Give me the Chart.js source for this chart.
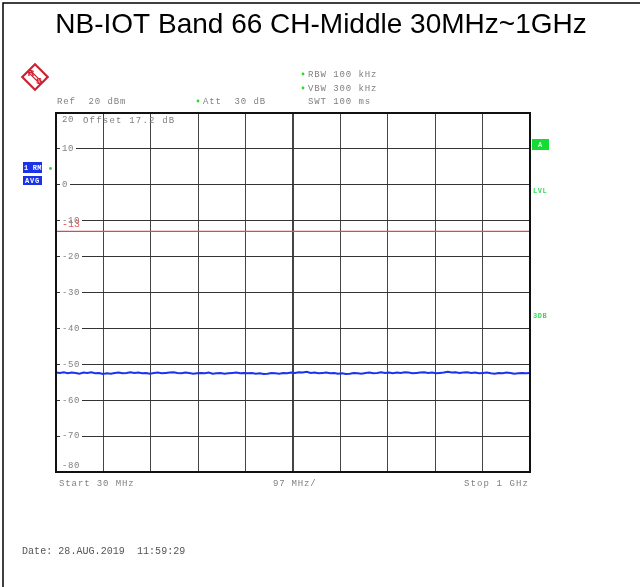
<!DOCTYPE html>
<html>
<head>
<meta charset="utf-8">
<script src="https://cdn.jsdelivr.net/npm/chart.js@4"></script>
<style>
  html, body { margin: 0; padding: 0; background: #fff; }
  #wrap { width: 640px; height: 587px; position: relative; }
</style>
</head>
<body>
<div id="wrap"><canvas id="c" width="640" height="587"></canvas></div>
<script>
// ---- data ----
const chartTitle = 'NB-IOT Band 66 CH-Middle 30MHz~1GHz';
const freqStartMHz = 30;
const freqStopMHz = 1000;
const xTickValues = [30, 127, 224, 321, 418, 515, 612, 709, 806, 903, 1000];
const yTickValues = [20, 10, 0, -10, -20, -30, -40, -50, -60, -70, -80];
const limitLevel = -13;
const limitLabel = '-13';
const traceLevels = [
  -52.3,-52.4,-52.2,-52.5,-52.3,-52.4,-52.6,-52.3,-52.4,-52.2,-52.5,-52.4,-52.7,
  -52.5,-52.6,-52.4,-52.3,-52.5,-52.4,-52.2,-52.4,-52.3,-52.5,-52.4,-52.6,
  -52.4,-52.3,-52.5,-52.4,-52.3,-52.2,-52.4,-52.5,-52.3,-52.4,-52.6,-52.5,
  -52.4,-52.5,-52.3,-52.6,-52.5,-52.4,-52.6,-52.5,-52.4,-52.3,-52.5,-52.4,
  -52.5,-52.4,-52.6,-52.5,-52.7,-52.6,-52.4,-52.5,-52.6,-52.4,-52.5,-52.3,
  -52.4,-52.2,-52.3,-52.1,-52.4,-52.3,-52.5,-52.4,-52.3,-52.5,-52.4,-52.6,
  -52.5,-52.7,-52.6,-52.4,-52.5,-52.6,-52.4,-52.3,-52.5,-52.4,-52.2,-52.4,
  -52.3,-52.5,-52.3,-52.4,-52.2,-52.3,-52.5,-52.4,-52.3,-52.2,-52.4,-52.3,
  -52.5,-52.4,-52.3,-52.1,-52.3,-52.2,-52.4,-52.3,-52.2,-52.4,-52.3,-52.5,
  -52.4,-52.3,-52.5,-52.6,-52.4,-52.5,-52.3,-52.4,-52.6,-52.5,-52.4,-52.5,-52.4
];
const headerLines = [
  { text: 'Ref  20 dBm', x: 57, y: 104, dot: false },
  { text: 'Att  30 dB', x: 203, y: 104, dot: true },
  { text: 'RBW 100 kHz', x: 308, y: 77, dot: true },
  { text: 'VBW 300 kHz', x: 308, y: 91, dot: true },
  { text: 'SWT 100 ms', x: 308, y: 104, dot: false }
];
const offsetText = 'Offset 17.2 dB';
const footerStart = 'Start 30 MHz';
const footerSpan = '97 MHz/';
const footerStop = 'Stop 1 GHz';
const dateText = 'Date: 28.AUG.2019  11:59:29';

// ---- build ----
const n = traceLevels.length;
const tracePoints = traceLevels.map((v, i) => ({
  x: freqStartMHz + (freqStopMHz - freqStartMHz) * i / (n - 1),
  y: v
}));
const limitPoints = [{ x: freqStartMHz, y: limitLevel }, { x: freqStopMHz, y: limitLevel }];

const MONO = '"Liberation Mono", "DejaVu Sans Mono", monospace';
function spaced(ctx, str, x, y, pitch) {
  for (let i = 0; i < str.length; i++) ctx.fillText(str[i], x + i * pitch, y);
}

const decor = {
  id: 'decor',
  beforeDraw(chart) {
    const ctx = chart.ctx;
    ctx.save();
    ctx.fillStyle = '#fff';
    ctx.fillRect(0, 0, chart.width, chart.height);
    ctx.restore();
  },
  afterDraw(chart) {
    const ctx = chart.ctx;
    const a = chart.chartArea;
    const ys = chart.scales.y;
    ctx.save();
    // outer frame (top + left)
    ctx.strokeStyle = '#000';
    ctx.lineWidth = 1.5;
    ctx.beginPath();
    ctx.moveTo(3, 587); ctx.lineTo(3, 3); ctx.lineTo(640, 3);
    ctx.stroke();

    // title
    ctx.fillStyle = '#000';
    ctx.font = '28px "Liberation Sans", Arial, sans-serif';
    ctx.textAlign = 'center';
    ctx.textBaseline = 'alphabetic';
    ctx.fillText(chartTitle, 321, 33);

    // plot border
    ctx.strokeStyle = '#111';
    ctx.lineWidth = 2;
    ctx.strokeRect(a.left, a.top, a.right - a.left, a.bottom - a.top);

    // y tick labels with white backdrop
    ctx.textAlign = 'left';
    ctx.textBaseline = 'middle';
    ctx.font = '9px ' + MONO;
    yTickValues.forEach(v => {
      let y = ys.getPixelForValue(v);
      y = Math.min(Math.max(y, a.top + 7), a.bottom - 6);
      const s = String(v);
      ctx.fillStyle = '#fff';
      ctx.fillRect(a.left + 4, y - 4, s.length * 6 + 4, 8);
      ctx.fillStyle = '#808080';
      spaced(ctx, s, a.left + 6, y, 6);
    });
    // limit label
    ctx.fillStyle = '#e05a5a';
    ctx.font = '10px ' + MONO;
    spaced(ctx, limitLabel, a.left + 6, ys.getPixelForValue(limitLevel) - 7, 6);

    // offset text inside plot
    ctx.fillStyle = '#808080';
    ctx.font = '9px ' + MONO;
    ctx.textBaseline = 'alphabetic';
    spaced(ctx, offsetText, 83, 123, 6.6);

    // header
    headerLines.forEach(h => {
      ctx.fillStyle = '#808080';
      spaced(ctx, h.text, h.x, h.y, 6.3);
      if (h.dot) {
        ctx.fillStyle = '#22dd22';
        ctx.beginPath();
        ctx.arc(h.x - 5, h.y - 3, 1.4, 0, Math.PI * 2);
        ctx.fill();
      }
    });

    // footer
    ctx.fillStyle = '#808080';
    spaced(ctx, footerStart, 59, 486, 6.3);
    spaced(ctx, footerSpan, 273, 486, 6.2);
    spaced(ctx, footerStop, 464, 486, 6.5);

    // date
    ctx.fillStyle = '#555';
    ctx.font = '10px ' + MONO;
    spaced(ctx, dateText, 22, 554, 6.05);

    // left blue boxes
    ctx.fillStyle = '#1a33e6';
    ctx.fillRect(23, 162, 19, 11);
    ctx.fillRect(23, 176, 19, 9);
    ctx.fillStyle = '#fff';
    ctx.font = 'bold 7px ' + MONO;
    ctx.textBaseline = 'middle';
    spaced(ctx, '1 RM', 24, 168, 4.4);
    spaced(ctx, 'AVG', 25, 181, 5);
    ctx.fillStyle = '#22dd22';
    ctx.beginPath(); ctx.arc(50.5, 168.5, 1.4, 0, Math.PI * 2); ctx.fill();

    // right green labels
    ctx.fillStyle = '#11dd33';
    ctx.fillRect(532, 139, 17, 11);
    ctx.fillStyle = '#e8ffe8';
    ctx.font = 'bold 7px ' + MONO;
    ctx.fillText('A', 538, 145);
    ctx.fillStyle = '#33dd55';
    spaced(ctx, 'LVL', 533, 191, 4.7);
    spaced(ctx, '3DB', 533, 316, 4.7);

    // R&S logo
    ctx.save();
    ctx.translate(35, 77);
    ctx.rotate(Math.PI / 4);
    ctx.strokeStyle = '#cc2233';
    ctx.lineWidth = 2.2;
    ctx.strokeRect(-9, -9, 18, 18);
    ctx.beginPath();
    ctx.moveTo(-9, -1.3); ctx.lineTo(9, -1.3);
    ctx.moveTo(-9, 1.3); ctx.lineTo(9, 1.3);
    ctx.lineWidth = 1.2;
    ctx.stroke();
    ctx.restore();
    ctx.fillStyle = '#cc2233';
    ctx.font = 'bold 9px "Liberation Sans", Arial, sans-serif';
    ctx.textAlign = 'center';
    ctx.fillText('R', 31, 74);
    ctx.fillText('S', 39, 82);
    ctx.restore();
  }
};

new Chart(document.getElementById('c'), {
  type: 'scatter',
  data: {
    datasets: [
      {
        label: 'Limit',
        data: limitPoints,
        showLine: true,
        borderColor: '#e04848',
        borderWidth: 1.3,
        pointRadius: 0,
        order: 2
      },
      {
        label: 'Trace',
        data: tracePoints,
        showLine: true,
        borderColor: '#1a33ee',
        borderWidth: 2,
        pointRadius: 0,
        tension: 0,
        order: 1
      }
    ]
  },
  options: {
    responsive: false,
    animation: false,
    events: [],
    layout: { padding: { left: 56, top: 113, right: 110, bottom: 115 } },
    plugins: { legend: { display: false }, tooltip: { enabled: false }, title: { display: false } },
    scales: {
      x: {
        type: 'linear',
        min: freqStartMHz,
        max: freqStopMHz,
        afterBuildTicks: s => { s.ticks = xTickValues.map(v => ({ value: v })); },
        afterFit: s => { s.height = 0; },
        ticks: { display: false },
        border: { display: false },
        grid: {
          drawTicks: false,
          color: '#444',
          lineWidth: c => (c.index === 5 ? 2 : 1)
        }
      },
      y: {
        type: 'linear',
        min: -80,
        max: 20,
        afterBuildTicks: s => { s.ticks = yTickValues.map(v => ({ value: v })); },
        afterFit: s => { s.width = 0; },
        ticks: { display: false },
        border: { display: false },
        grid: { drawTicks: false, color: '#333', lineWidth: 1 }
      }
    }
  },
  plugins: [decor]
});
</script>
</body>
</html>
